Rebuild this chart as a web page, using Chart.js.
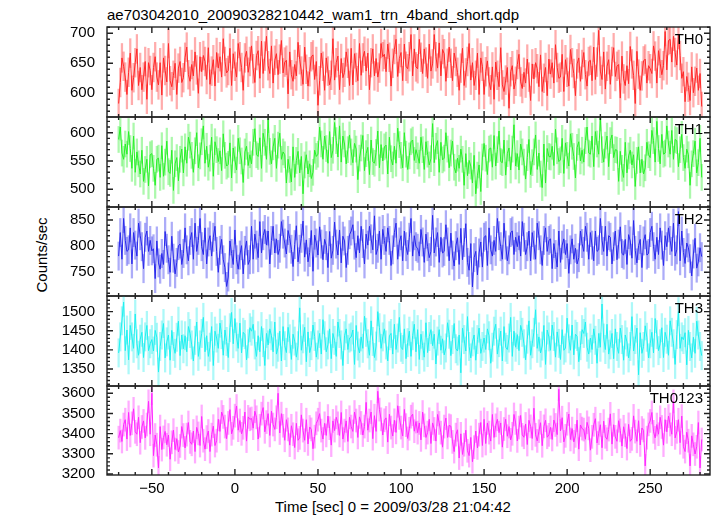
<!DOCTYPE html>
<html>
<head>
<meta charset="utf-8">
<script src="https://cdn.jsdelivr.net/npm/chart.js@4.4.1/dist/chart.umd.min.js"></script>
<style>
  body { margin: 0; background: #fff; width: 717px; height: 516px; overflow: hidden; position: relative;
         font-family: "Liberation Sans", Arial, sans-serif; }
  canvas { position: absolute; left: 0; }
  .txt { position: absolute; font-size: 15px; line-height: 15px; color: #000; white-space: nowrap; }
</style>
</head>
<body>
<div class="txt" style="left:107px;top:7px">ae703042010_20090328210442_wam1_trn_4band_short.qdp</div>
<div class="txt" style="left:275px;top:499px">Time [sec] 0 = 2009/03/28 21:04:42</div>
<div class="txt" style="left:41px;top:255px;transform:translate(-50%,-50%) rotate(-90deg)">Counts/sec</div>
<script>
// Light curve, 1 s bins, first bin centre at t = -70 s
const tStart = -70;
const tBin = 1;

const th0 = [
  583,618,659,645,627,598,635,667,605,626,651,674,613,643,606,627,653,590,651,638,
  606,643,661,627,614,651,597,659,638,619,683,621,611,630,650,598,642,653,618,626,
  660,677,631,620,648,629,669,639,600,661,636,663,653,623,676,615,637,656,612,668,
  642,661,627,691,653,634,638,675,613,666,645,627,683,661,643,605,659,670,635,653,
  679,641,618,663,671,625,687,633,662,695,646,633,679,617,655,666,631,657,688,634,
  652,655,599,669,631,620,648,629,685,656,637,615,677,640,612,636,661,664,623,653,
  580,621,667,645,605,659,637,614,630,691,622,651,662,606,658,626,635,669,650,613,
  675,614,666,643,621,683,630,659,670,637,667,606,651,674,629,658,627,642,683,661,
  665,636,682,660,612,650,673,690,628,658,668,621,682,645,641,661,698,629,674,644,
  641,690,660,633,674,652,625,682,637,649,698,661,642,684,629,673,666,620,650,677,
  650,621,667,653,635,605,642,675,613,634,653,683,622,651,613,630,667,598,659,645,
  598,636,654,619,606,644,590,652,630,611,676,614,603,622,643,575,636,646,607,620,
  648,665,619,608,635,617,657,627,588,649,624,651,641,611,664,603,625,643,596,657,
  632,651,617,681,643,625,627,665,603,656,635,612,673,651,633,596,649,659,620,648,
  668,631,612,653,655,621,677,623,652,705,637,623,669,607,645,656,615,653,676,628,
  645,648,592,662,624,613,646,616,678,649,630,583,670,632,605,629,654,657,617,646,
  641,633,679,662,617,671,650,631,646,703,639,688,690,652,695,668,647,698,663,625,
  636,586,628,610,588,644,601,620,642,605,633,578
];
const th1 = [
  588,610,564,553,580,562,602,572,537,594,530,566,545,527,569,514,535,553,506,561,
  563,537,507,553,555,521,577,523,548,585,531,528,569,498,545,556,515,553,571,529,
  575,546,592,578,560,530,568,600,538,559,584,612,546,576,539,555,592,523,584,570,
  549,568,533,598,560,541,544,582,520,573,552,534,590,568,550,512,566,576,542,561,
  545,583,607,561,558,591,537,599,583,553,623,567,545,575,590,537,578,599,553,566,
  561,511,553,535,513,575,521,551,567,529,558,492,543,561,527,545,519,530,569,558,
  562,610,580,553,594,572,546,602,556,569,618,586,557,612,548,594,580,545,570,596,
  566,547,581,571,517,555,573,595,533,563,574,526,587,549,546,565,603,538,579,550,
  575,578,527,592,554,543,576,546,608,579,560,538,600,562,535,559,584,587,551,570,
  559,546,592,570,535,584,562,543,554,616,547,576,586,530,583,552,555,600,571,538,
  564,585,539,529,555,537,571,553,507,563,524,551,541,511,560,492,525,543,496,557,
  581,555,526,571,573,539,595,541,570,603,549,547,587,525,563,573,534,571,614,541,
  563,534,580,566,548,518,556,588,526,547,566,596,535,564,527,503,580,511,572,558,
  557,576,542,606,568,549,552,590,528,582,560,541,598,576,558,520,574,584,550,569,
  548,586,610,564,562,594,540,602,580,562,626,570,548,578,594,540,586,596,556,570,
  569,514,567,537,521,583,529,559,569,543,561,505,551,575,529,553,527,538,583,561,
  556,604,586,548,620,572,545,597,562,564,612,580,562,604,553,588,586,540,570,597,
  556,537,571,561,507,545,563,585,529,547,590,521
];
const th2 = [
  781,826,775,853,811,790,793,835,766,826,802,781,844,820,799,757,817,829,790,811,
  791,795,738,810,768,756,786,765,828,796,774,750,819,777,747,769,801,804,765,786,
  835,793,772,811,826,775,844,790,811,853,799,784,835,766,808,820,781,817,838,790,
  750,792,813,774,759,723,741,810,786,765,831,774,756,783,801,747,792,810,765,774,
  838,775,823,802,778,847,787,820,832,802,829,766,811,838,787,814,784,796,847,823,
  806,785,830,815,794,761,803,839,770,794,815,848,779,812,770,788,830,752,821,806,
  783,837,804,774,813,801,759,828,777,792,846,804,783,831,768,819,810,759,792,822,
  829,841,802,778,820,787,838,805,766,823,802,838,814,793,858,784,796,829,775,832,
  811,790,835,811,763,793,826,844,775,808,820,772,829,799,784,817,853,781,820,799,
  796,781,832,808,769,823,799,778,790,859,787,808,826,769,817,787,790,841,808,772,
  825,783,762,801,816,765,834,774,807,843,769,754,805,722,778,790,745,787,808,760,
  817,820,763,835,793,781,811,790,853,820,799,775,844,802,772,793,826,829,784,817,
  799,820,781,847,817,784,799,829,772,826,802,775,844,820,793,763,811,835,790,811,
  814,757,805,784,760,829,769,802,814,784,805,748,793,814,775,796,766,778,829,805,
  790,838,817,775,826,802,772,829,790,793,853,811,790,838,781,820,817,766,799,829,
  774,804,837,786,783,813,765,822,810,777,849,792,768,801,813,759,810,822,783,786,
  826,838,799,775,817,784,835,802,763,820,799,835,811,790,844,781,793,866,772,829,
  788,767,806,797,776,743,785,815,758,770,797,780
];
const th3 = [
  1392,1434,1476,1525,1398,1452,1374,1464,1434,1404,1494,1416,1386,1428,1446,1380,1434,1464,1398,1416,
  1427,1397,1451,1433,1342,1409,1439,1469,1379,1421,1439,1373,1451,1409,1391,1433,1475,1385,1439,1403,
  1437,1395,1461,1443,1413,1371,1425,1473,1383,1413,1443,1485,1395,1437,1383,1407,1461,1359,1449,1431,
  1404,1470,1440,1386,1452,1422,1380,1458,1498,1416,1482,1434,1404,1470,1392,1446,1440,1374,1416,1458,
  1449,1467,1413,1383,1437,1395,1461,1419,1359,1443,1413,1455,1437,1395,1473,1389,1407,1449,1371,1461,
  1411,1393,1459,1429,1375,1441,1423,1381,1411,1510,1399,1429,1459,1369,1447,1393,1411,1465,1435,1381,
  1413,1443,1389,1479,1437,1395,1413,1455,1377,1443,1425,1383,1473,1443,1413,1359,1437,1455,1401,1431,
  1434,1452,1362,1464,1410,1392,1434,1404,1488,1446,1416,1386,1476,1422,1380,1410,1500,1458,1404,1434,
  1455,1413,1371,1437,1443,1389,1467,1401,1431,1485,1407,1401,1455,1377,1419,1449,1383,1437,1467,1395,
  1453,1375,1441,1411,1381,1471,1393,1435,1453,1411,1441,1363,1423,1453,1399,1429,1387,1405,1471,1441,
  1385,1427,1469,1403,1397,1439,1340,1457,1427,1397,1487,1409,1379,1421,1439,1373,1427,1457,1391,1409,
  1431,1401,1455,1437,1365,1407,1449,1467,1389,1419,1449,1371,1461,1407,1401,1431,1485,1383,1449,1407,
  1440,1398,1464,1446,1416,1374,1428,1476,1386,1416,1446,1505,1404,1434,1392,1410,1464,1362,1452,1434,
  1399,1465,1435,1381,1447,1417,1375,1453,1399,1405,1483,1429,1399,1465,1387,1441,1435,1369,1411,1453,
  1443,1473,1407,1389,1431,1401,1455,1425,1365,1443,1407,1520,1431,1401,1467,1389,1413,1443,1377,1455,
  1409,1391,1457,1427,1373,1439,1421,1379,1409,1487,1397,1427,1457,1335,1445,1391,1409,1463,1433,1379,
  1416,1446,1392,1482,1440,1398,1416,1458,1380,1446,1428,1386,1476,1446,1416,1362,1440,1500,1404,1434,
  1427,1445,1361,1451,1409,1379,1433,1391,1475,1439,1409,1385
];
const th0123 = [
  3380,3415,3361,3445,3469,3373,3505,3391,3451,3523,3409,3397,3481,3355,3433,3463,3379,3445,3560,3397,
  3600,3291,3393,3345,3230,3435,3321,3381,3411,3345,3393,3273,3357,3417,3321,3375,3309,3339,3435,3393,
  3329,3395,3455,3359,3347,3413,3311,3431,3401,3341,3485,3365,3323,3383,3413,3311,3395,3437,3341,3365,
  3471,3411,3507,3483,3435,3375,3453,3519,3399,3429,3489,3537,3417,3465,3399,3429,3507,3363,3483,3471,
  3475,3427,3511,3481,3373,3439,3499,3529,3409,3457,3499,3391,3511,3445,3421,3481,3600,3403,3499,3439,
  3367,3469,3421,3343,3439,3397,3331,3451,3367,3379,3493,3415,3367,3469,3349,3433,3421,3325,3385,3451,
  3469,3499,3415,3373,3451,3391,3487,3427,3343,3463,3415,3481,3451,3391,3505,3373,3415,3463,3361,3481,
  3435,3411,3507,3465,3381,3483,3453,3393,3435,3555,3417,3465,3507,3375,3489,3411,3610,3519,3471,3393,
  3466,3478,3358,3496,3430,3388,3466,3406,3538,3478,3430,3388,3520,3442,3376,3424,3484,3496,3412,3460,
  3405,3453,3369,3507,3441,3381,3405,3471,3351,3453,3423,3363,3495,3453,3405,3333,3435,3477,3381,3441,
  3437,3359,3311,3395,3419,3279,3399,3297,3345,3417,3315,3291,3381,3261,3333,3413,3329,3395,3455,3341,
  3471,3351,3453,3405,3363,3495,3381,3441,3471,3405,3453,3333,3423,3471,3387,3435,3369,3399,3495,3453,
  3364,3430,3490,3394,3382,3448,3346,3466,3436,3376,3526,3394,3364,3412,3454,3340,3436,3466,3382,3394,
  3431,3371,3467,3443,3395,3620,3413,3479,3359,3389,3449,3497,3371,3425,3359,3389,3467,3323,3443,3425,
  3420,3372,3456,3426,3318,3384,3444,3474,3354,3402,3444,3330,3462,3384,3372,3420,3498,3348,3444,3384,
  3362,3464,3416,3338,3434,3392,3326,3446,3362,3374,3488,3410,3362,3464,3344,3428,3416,3240,3380,3446,
  3463,3505,3409,3379,3445,3397,3481,3433,3343,3469,3409,3487,3445,3397,3560,3379,3409,3469,3355,3487,
  3335,3311,3407,3365,3240,3389,3347,3299,3335,3455,3230,3371
];

// typical 1-sigma error per bin
const th0Err = 24, th1Err = 23, th2Err = 27, th3Err = 37, th0123Err = 57;

const timeTicks = [-50, 0, 50, 100, 150, 200, 250];
const th0Ticks = [600, 650, 700];
const th1Ticks = [500, 550, 600];
const th2Ticks = [750, 800, 850];
const th3Ticks = [1350, 1400, 1450, 1500];
const th0123Ticks = [3200, 3300, 3400, 3500, 3600];

const panels = [
  { name: 'TH0',    data: th0,    err: th0Err,    ticks: th0Ticks,    min: 560.5, max: 710.5, minor: 10, top: 27,  h: 90, line: 'rgb(255,40,40)',  bar: 'rgba(255,70,70,0.45)' },
  { name: 'TH1',    data: th1,    err: th1Err,    ticks: th1Ticks,    min: 468.7, max: 627.7, minor: 10, top: 117, h: 90, line: 'rgb(40,240,40)',  bar: 'rgba(70,240,70,0.45)' },
  { name: 'TH2',    data: th2,    err: th2Err,    ticks: th2Ticks,    min: 704.7, max: 874.9, minor: 10, top: 207, h: 89, line: 'rgb(40,40,235)',  bar: 'rgba(70,70,240,0.45)' },
  { name: 'TH3',    data: th3,    err: th3Err,    ticks: th3Ticks,    min: 1305.5, max: 1541, minor: 10, top: 296, h: 90, line: 'rgb(30,240,240)', bar: 'rgba(70,240,240,0.45)' },
  { name: 'TH0123', data: th0123, err: th0123Err, ticks: th0123Ticks, min: 3195, max: 3636,  minor: 20, top: 386, h: 89, line: 'rgb(255,40,255)', bar: 'rgba(255,70,255,0.45)' },
];

Chart.defaults.font.family = '"Liberation Sans", Arial, sans-serif';
Chart.defaults.font.size = 15;
Chart.defaults.color = '#000';

const PAD = 4;       // canvas overlap above/below each frame
const XAXIS_H = 41;  // room for the time axis under the last panel

// ── QDP-style frame with inward ticks + panel label ──────────────
const framePlugin = {
  id: 'qdpFrame',
  afterDraw(chart, args, opts) {
    const { ctx, chartArea: a, scales: { x, y } } = chart;
    ctx.save();
    ctx.strokeStyle = '#222';
    ctx.lineWidth = 1.4;
    ctx.beginPath();
    for (let t = -70; t <= 280; t += 10) {
      const px = x.getPixelForValue(t);
      const len = t % 50 === 0 ? 6 : 3;
      ctx.moveTo(px, a.top); ctx.lineTo(px, a.top + len);
      ctx.moveTo(px, a.bottom); ctx.lineTo(px, a.bottom - len);
    }
    const start = Math.ceil(y.min / opts.minor) * opts.minor;
    for (let v = start; v <= y.max; v += opts.minor) {
      const py = y.getPixelForValue(v);
      const len = opts.ticks.includes(v) ? 6 : 3;
      ctx.moveTo(a.left, py); ctx.lineTo(a.left + len, py);
      ctx.moveTo(a.right, py); ctx.lineTo(a.right - len, py);
    }
    ctx.stroke();
    ctx.strokeRect(a.left, a.top, a.right - a.left, a.bottom - a.top);
    ctx.fillStyle = '#000';
    ctx.font = '15px "Liberation Sans", Arial, sans-serif';
    ctx.textAlign = 'right';
    ctx.textBaseline = 'alphabetic';
    ctx.fillText(opts.label, a.right - 7, a.top + 16.5);
    ctx.restore();
  }
};

const noEdgePadding = s => { s.paddingTop = 0; s.paddingBottom = 0; s.paddingLeft = 0; s.paddingRight = 0; };

panels.forEach((p, i) => {
  const last = i === panels.length - 1;
  const canvas = document.createElement('canvas');
  canvas.width = 717;
  canvas.height = p.h + PAD + (last ? XAXIS_H : PAD);
  canvas.style.top = (p.top - PAD) + 'px';
  document.body.appendChild(canvas);

  const pts = p.data.map((v, k) => ({ x: tStart + k * tBin, y: v }));
  const errs = p.data.map((v, k) => ({ x: tStart + k * tBin, y: [v - p.err, v + p.err] }));

  new Chart(canvas, {
    type: 'line',
    data: {
      datasets: [
        { type: 'line', data: pts, borderColor: p.line, borderWidth: 1, pointRadius: 0, tension: 0, fill: false, order: 0 },
        { type: 'bar', data: errs, backgroundColor: p.bar, borderWidth: 0, barThickness: 1.6, order: 1 }
      ]
    },
    options: {
      responsive: false, maintainAspectRatio: false, animation: false, devicePixelRatio: 1,
      layout: { padding: { left: 0, right: 7, top: PAD, bottom: last ? 0 : PAD } },
      plugins: {
        legend: { display: false }, tooltip: { enabled: false },
        qdpFrame: { label: p.name, ticks: p.ticks, minor: p.minor }
      },
      scales: {
        x: {
          type: 'linear', min: -77, max: 286, offset: false, display: last,
          grid: { display: false, drawTicks: false }, border: { display: false },
          afterBuildTicks: s => { s.ticks = timeTicks.map(v => ({ value: v })); },
          afterFit: s => { noEdgePadding(s); if (last) s.height = XAXIS_H; },
          ticks: { padding: 5, autoSkip: false, maxRotation: 0,
                   callback: v => String(v).replace('-', '\u2212') }
        },
        y: {
          type: 'linear', min: p.min, max: p.max,
          grid: { display: false, drawTicks: false }, border: { display: false },
          afterBuildTicks: s => { s.ticks = p.ticks.map(v => ({ value: v })); },
          afterFit: s => { noEdgePadding(s); s.width = 107; },
          ticks: { padding: 12, callback: v => String(v) }
        }
      }
    },
    plugins: [framePlugin]
  });
});
</script>
</body>
</html>
